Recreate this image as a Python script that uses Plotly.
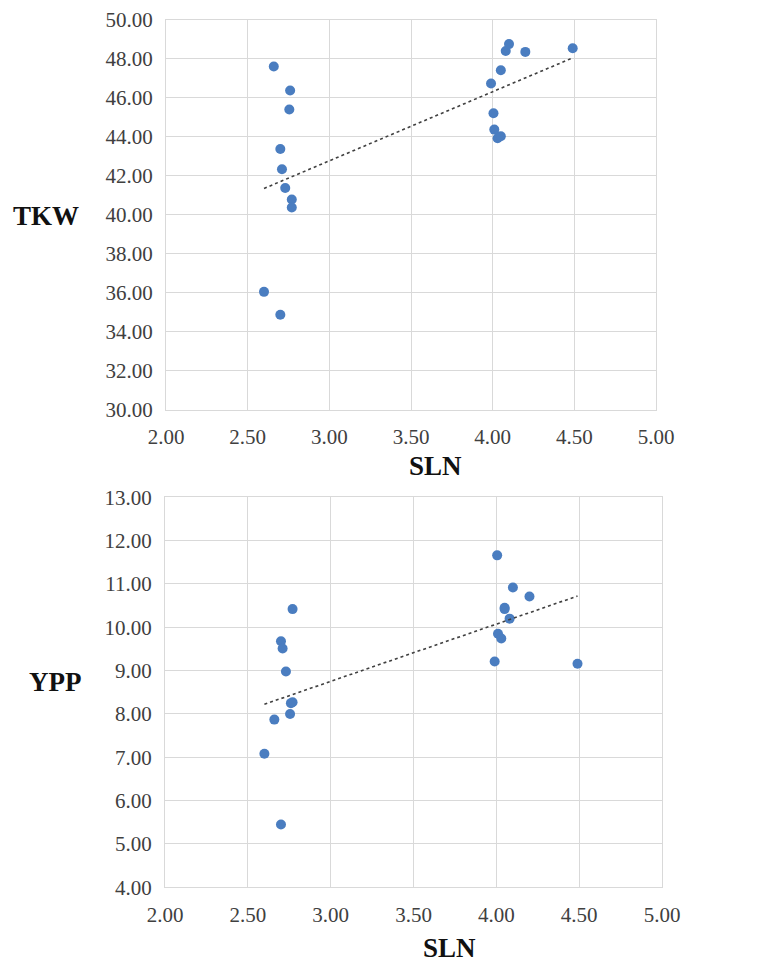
import numpy as np
import plotly.graph_objects as go

# ---- data ----
SLN = [2.60, 2.66, 2.70, 2.70, 2.71, 2.73, 2.755, 2.76, 2.77, 2.77,
       3.99, 4.005, 4.01, 4.03, 4.05, 4.05, 4.08, 4.10, 4.20, 4.49]
TKW = [36.05, 47.59, 34.88, 43.37, 42.33, 41.37, 45.39, 46.36, 40.78, 40.37,
       46.72, 45.20, 44.36, 43.92, 44.02, 47.40, 48.39, 48.74, 48.34, 48.53]
YPP = [7.08, 7.87, 5.45, 9.68, 9.51, 8.98, 8.00, 8.25, 8.27, 10.42,
       9.21, 11.66, 9.85, 9.74, 10.45, 10.42, 10.20, 10.92, 10.71, 9.16]

X_TICKS = [2.0, 2.5, 3.0, 3.5, 4.0, 4.5, 5.0]
TKW_TICKS = [30, 32, 34, 36, 38, 40, 42, 44, 46, 48, 50]
YPP_TICKS = [4, 5, 6, 7, 8, 9, 10, 11, 12, 13]

OFF = 8  # page body margin
W, H = 768 - OFF, 963 - OFF
MARKER = "#4a7dc0"
GRID = "#d9d9d9"
FONT = "Liberation Serif, Times New Roman, serif"


def fx(px):
    return (px - OFF) / W


def fy(py):
    return 1 - (py - OFF) / H


fig = go.Figure()


def add_panel(y, xa, ya):
    x = np.array(SLN)
    yy = np.array(y)
    fig.add_trace(go.Scatter(x=SLN, y=y, mode="markers", xaxis=xa, yaxis=ya,
                             marker=dict(color=MARKER, size=10), showlegend=False))
    b, a = np.polyfit(x, yy, 1)
    xs = [x.min(), x.max()]
    fig.add_trace(go.Scatter(x=xs, y=[a + b * v for v in xs], mode="lines",
                             xaxis=xa, yaxis=ya, showlegend=False,
                             line=dict(color="#404040", width=1.6, dash="dot")))


add_panel(TKW, "x", "y")
add_panel(YPP, "x2", "y2")

axis_common = dict(showgrid=True, gridcolor=GRID, gridwidth=1, showline=True,
                   linecolor=GRID, linewidth=1, mirror=True, zeroline=False,
                   tickfont=dict(family=FONT, size=21, color="#404040"),
                   ticks="", fixedrange=True, automargin=False,
                   ticklabelstandoff=8, tickformat=".2f",
                   ticklabeloverflow="allow")

fig.update_layout(
    template="none",
    width=W, height=H, margin=dict(l=0, r=0, t=0, b=0, pad=0),
    paper_bgcolor="white", plot_bgcolor="white",
    xaxis=dict(domain=[fx(166), fx(656)], anchor="y", range=[2, 5],
               tickvals=X_TICKS, **axis_common),
    yaxis=dict(domain=[fy(410), fy(19.5)], anchor="x", range=[30, 50],
               tickvals=TKW_TICKS, **axis_common),
    xaxis2=dict(domain=[fx(165), fx(662)], anchor="y2", range=[2, 5],
                tickvals=X_TICKS, **axis_common),
    yaxis2=dict(domain=[fy(887.3), fy(497.3)], anchor="x2", range=[4, 13],
                tickvals=YPP_TICKS, **axis_common),
)

title_font = dict(family=FONT, size=27, color="#111111")
annots = [
    ("<b>TKW</b>", 46, 216),
    ("<b>YPP</b>", 55, 682),
    ("<b>SLN</b>", 435, 466),
    ("<b>SLN</b>", 449, 948),
]
for text, px, py in annots:
    fig.add_annotation(text=text, x=fx(px), y=fy(py), xref="paper", yref="paper",
                       xanchor="center", yanchor="middle", showarrow=False,
                       font=title_font)

fig.write_html("out.html")
